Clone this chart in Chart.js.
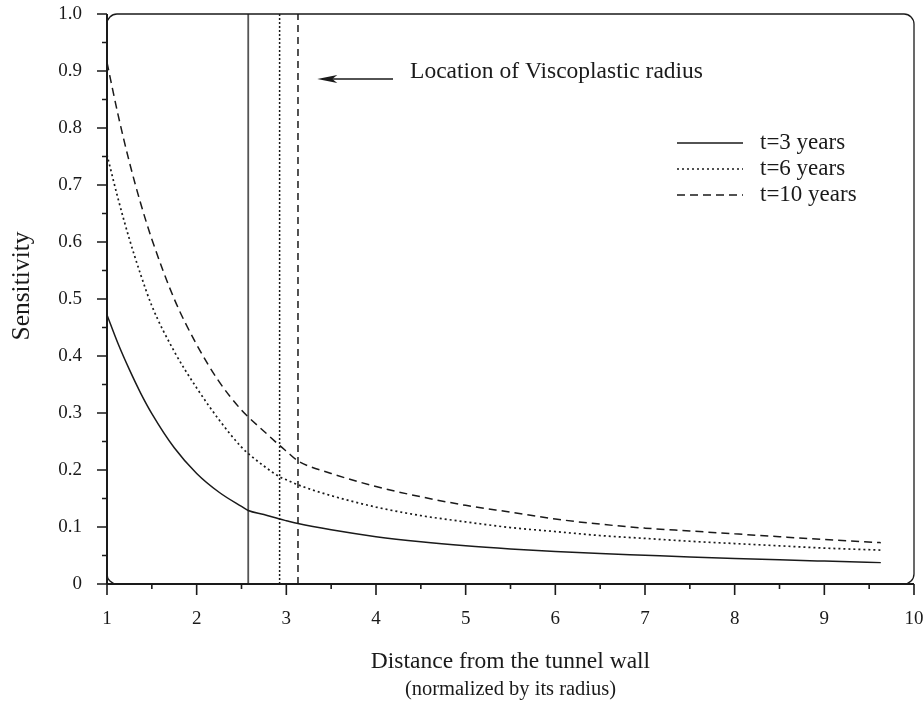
<!DOCTYPE html>
<html><head><meta charset="utf-8">
<script src="https://cdn.jsdelivr.net/npm/chart.js@4/dist/chart.umd.min.js"></script>
<style>html,body{margin:0;padding:0;background:#fff}canvas{display:block}</style>
</head><body>
<canvas id="c" width="924" height="710"></canvas>
<script>
// ---- data ----
const distance = [1, 1.125, 1.25, 1.375, 1.5, 1.75, 2, 2.25, 2.5, 2.575, 2.75, 2.925, 3, 3.13, 3.5, 4, 4.5, 5, 5.5, 6, 6.5, 7, 7.5, 8, 8.5, 9, 9.63];
const sens3  = [0.472, 0.421, 0.376, 0.335, 0.299, 0.239, 0.194, 0.161, 0.136, 0.129, 0.122, 0.114, 0.111, 0.106, 0.095, 0.083, 0.074, 0.067, 0.0615, 0.057, 0.0535, 0.0505, 0.0475, 0.0448, 0.0424, 0.0402, 0.0375];
const sens6  = [0.753, 0.675, 0.605, 0.543, 0.488, 0.408, 0.344, 0.288, 0.240, 0.229, 0.207, 0.188, 0.183, 0.174, 0.155, 0.135, 0.120, 0.109, 0.099, 0.092, 0.085, 0.080, 0.075, 0.071, 0.067, 0.063, 0.0595];
const sens10 = [0.915, 0.822, 0.740, 0.668, 0.605, 0.500, 0.420, 0.355, 0.305, 0.293, 0.268, 0.243, 0.233, 0.216, 0.194, 0.171, 0.153, 0.138, 0.126, 0.114, 0.105, 0.098, 0.093, 0.088, 0.083, 0.078, 0.0725];
const seriesLabels = ['t=3 years', 't=6 years', 't=10 years'];
const viscoRadius = [2.575, 2.925, 3.13];   // viscoplastic radius for t=3, 6, 10 years
const xTickValues = [1, 2, 3, 4, 5, 6, 7, 8, 9, 10];
const yTickValues = [0, 0.1, 0.2, 0.3, 0.4, 0.5, 0.6, 0.7, 0.8, 0.9, 1.0];
const xTitle = 'Distance from the tunnel wall';
const xSubtitle = '(normalized by its radius)';
const yTitle = 'Sensitivity';
const annotationText = 'Location of Viscoplastic radius';
const arrowFrom = [4.19, 0.886];
const arrowTo = [3.345, 0.886];
const annotationAt = [4.38, 0.898];

// ---- styles ----
const FONT = "'Liberation Serif', 'DejaVu Serif', serif";
const INK = '#1a1a1a';
const dashes = [[], [2, 3], [8, 5]];
const vDashes = [[], [2, 2], [7, 5]];

const pts = (ys) => distance.map((x, i) => ({x, y: ys[i]}));
const vline = (x) => [{x, y: 0}, {x, y: 1}];

const curveSets = [sens3, sens6, sens10].map((ys, i) => ({
  label: seriesLabels[i], data: pts(ys), borderColor: INK, borderWidth: i === 1 ? 1.7 : 1.5,
  borderDash: dashes[i], pointRadius: 0, fill: false, cubicInterpolationMode: 'monotone'
}));
const vSets = viscoRadius.map((x, i) => ({
  label: 'radius ' + seriesLabels[i], data: vline(x), borderColor: i === 0 ? '#555' : INK,
  borderWidth: i === 0 ? 1.8 : 1.5, borderDash: vDashes[i], pointRadius: 0, fill: false
}));

Chart.defaults.font.family = FONT;
Chart.defaults.color = INK;

const noPad = (s) => { s.paddingTop = 0; s.paddingBottom = 0; s.paddingLeft = 0; s.paddingRight = 0; };

const decor = {
  id: 'decor',
  afterDraw(chart) {
    const {ctx, chartArea: a, scales: {x, y}} = chart;
    ctx.save();
    ctx.strokeStyle = INK;
    ctx.setLineDash([]);
    // rounded frame
    const r = 10;
    ctx.lineWidth = 1.3;
    ctx.beginPath();
    ctx.moveTo(a.left + r, a.top);
    ctx.lineTo(a.right - r, a.top);
    ctx.arcTo(a.right, a.top, a.right, a.top + r, r);
    ctx.lineTo(a.right, a.bottom - r);
    ctx.arcTo(a.right, a.bottom, a.right - r, a.bottom, r);
    ctx.lineTo(a.left + r, a.bottom);
    ctx.arcTo(a.left, a.bottom, a.left, a.bottom - r, r);
    ctx.lineTo(a.left, a.top + r);
    ctx.arcTo(a.left, a.top, a.left + r, a.top, r);
    ctx.stroke();
    // axes
    ctx.lineWidth = 2;
    ctx.beginPath();
    ctx.moveTo(a.left, a.top); ctx.lineTo(a.left, a.bottom);
    ctx.moveTo(a.left, a.bottom); ctx.lineTo(a.right, a.bottom);
    ctx.stroke();
    // ticks
    ctx.lineWidth = 1.6;
    ctx.beginPath();
    for (let i = 0; i < yTickValues.length; i++) {
      const py = y.getPixelForValue(yTickValues[i]);
      ctx.moveTo(a.left - 10, py); ctx.lineTo(a.left, py);
      if (i < yTickValues.length - 1) {
        const pm = y.getPixelForValue((yTickValues[i] + yTickValues[i + 1]) / 2);
        ctx.moveTo(a.left - 5, pm); ctx.lineTo(a.left, pm);
      }
    }
    for (let i = 0; i < xTickValues.length; i++) {
      const px = x.getPixelForValue(xTickValues[i]);
      ctx.moveTo(px, a.bottom); ctx.lineTo(px, a.bottom + 11);
      if (i < xTickValues.length - 1) {
        const pm = x.getPixelForValue((xTickValues[i] + xTickValues[i + 1]) / 2);
        ctx.moveTo(pm, a.bottom); ctx.lineTo(pm, a.bottom + 5);
      }
    }
    ctx.stroke();
    // arrow
    const ax0 = x.getPixelForValue(arrowFrom[0]), ay = y.getPixelForValue(arrowFrom[1]);
    const ax1 = x.getPixelForValue(arrowTo[0]);
    ctx.lineWidth = 1.4;
    ctx.beginPath(); ctx.moveTo(ax0, ay); ctx.lineTo(ax1 + 8, ay); ctx.stroke();
    ctx.fillStyle = INK;
    ctx.beginPath();
    ctx.moveTo(ax1, ay);
    ctx.lineTo(ax1 + 20, ay - 4);
    ctx.lineTo(ax1 + 15, ay);
    ctx.lineTo(ax1 + 20, ay + 4);
    ctx.closePath(); ctx.fill();
    // annotation text
    ctx.font = '23.5px ' + FONT;
    ctx.textAlign = 'left'; ctx.textBaseline = 'middle';
    ctx.fillText(annotationText, x.getPixelForValue(annotationAt[0]), y.getPixelForValue(annotationAt[1]));
    // legend
    const lx0 = 677, lx1 = 743, ly0 = 143, ldy = 26;
    ctx.font = '23px ' + FONT;
    chart.data.datasets.slice(0, 3).forEach((ds, i) => {
      const ly = ly0 + i * ldy;
      ctx.lineWidth = ds.borderWidth;
      ctx.setLineDash(ds.borderDash);
      ctx.beginPath(); ctx.moveTo(lx0, ly); ctx.lineTo(lx1, ly); ctx.stroke();
      ctx.setLineDash([]);
      ctx.fillText(ds.label, 760, ly);
    });
    // axis titles
    const cx = (a.left + a.right) / 2;
    ctx.textAlign = 'center';
    ctx.font = '23.5px ' + FONT;
    ctx.fillText(xTitle, cx, 662);
    ctx.font = '20.5px ' + FONT;
    ctx.fillText(xSubtitle, cx, 690);
    ctx.save();
    ctx.translate(22, 286);
    ctx.rotate(-Math.PI / 2);
    ctx.font = '25.5px ' + FONT;
    ctx.fillText(yTitle, 0, 0);
    ctx.restore();
    ctx.restore();
  }
};

new Chart(document.getElementById('c'), {
  type: 'line',
  data: { datasets: [...curveSets, ...vSets] },
  options: {
    responsive: false, animation: false,
    layout: { padding: { top: 14, right: 10, left: 0, bottom: 0 } },
    plugins: { legend: { display: false }, tooltip: { enabled: false } },
    scales: {
      x: {
        type: 'linear', min: 1, max: 10,
        afterFit: (s) => { s.height = 126; noPad(s); },
        afterBuildTicks: (s) => { s.ticks = xTickValues.map(v => ({value: v})); },
        grid: { display: false, drawTicks: false }, border: { display: false },
        ticks: { padding: 24, font: { size: 19 }, color: INK, callback: (v) => String(v), maxRotation: 0, autoSkip: false }
      },
      y: {
        type: 'linear', min: 0, max: 1,
        afterFit: (s) => { s.width = 107; noPad(s); },
        afterBuildTicks: (s) => { s.ticks = yTickValues.map(v => ({value: v})); },
        grid: { display: false, drawTicks: false }, border: { display: false },
        ticks: { padding: 25, font: { size: 19 }, color: INK, callback: (v) => v === 0 ? '0' : v.toFixed(1), autoSkip: false }
      }
    }
  },
  plugins: [decor]
});
</script>
</body></html>
